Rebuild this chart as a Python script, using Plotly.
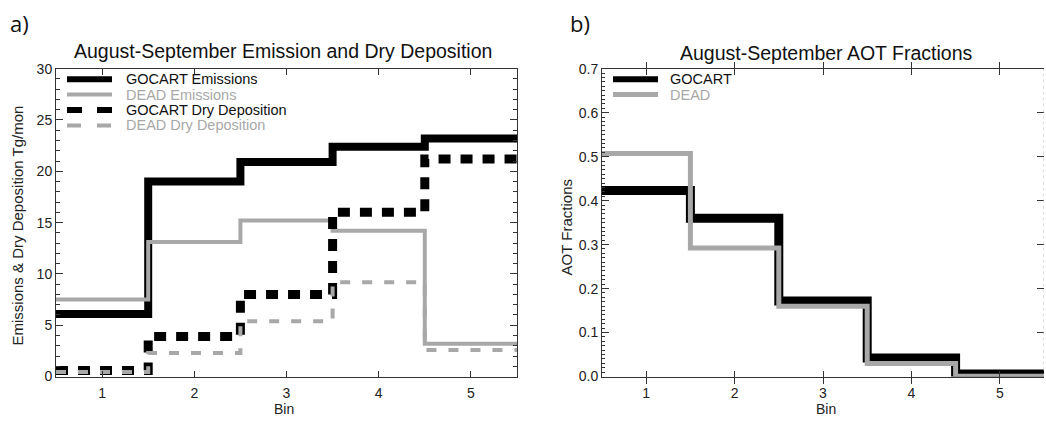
import plotly.graph_objects as go

# Size bins
bins = [1, 2, 3, 4, 5]

# August-September emission and dry deposition (Tg/mon)
gocart_emis = [6.1, 19.0, 20.9, 22.4, 23.2]
dead_emis = [7.5, 13.1, 15.2, 14.2, 3.2]
gocart_drydep = [0.6, 3.9, 8.0, 16.0, 21.2]
dead_drydep = [0.45, 2.3, 5.4, 9.2, 2.6]

# August-September AOT fractions
gocart_aot = [0.423, 0.360, 0.172, 0.042, 0.006]
dead_aot = [0.507, 0.292, 0.160, 0.030, 0.001]

left_yticks = [0, 5, 10, 15, 20, 25, 30]
right_yticks = [0.0, 0.1, 0.2, 0.3, 0.4, 0.5, 0.6, 0.7]

W, H = 1046, 425
BLACK = "#000000"
GRAY = "#a8a8a8"
AXC = "#333333"
FONT = "Liberation Sans, Arial, sans-serif"
TICKFONT = dict(family=FONT, size=14, color="#222")


def px(x):
    return x / W


def py(y):
    return 1 - y / H


def steps(vals):
    """Bin edges and values for a histogram-style step line."""
    edges = [b - 0.5 for b in bins] + [bins[-1] + 0.5]
    return edges, list(vals) + [vals[-1]]


fig = go.Figure()


def add_step(vals, color, width, dash, xa, ya):
    x, y = steps(vals)
    fig.add_trace(go.Scatter(
        x=x, y=y, mode="lines", line_shape="hv",
        line=dict(color=color, width=width, dash=dash),
        xaxis=xa, yaxis=ya, showlegend=False, hoverinfo="skip"))


add_step(gocart_emis, BLACK, 8, "solid", "x", "y")
add_step(dead_emis, GRAY, 4, "solid", "x", "y")
add_step(gocart_drydep, BLACK, 9, "12px,10px", "x", "y")
add_step(dead_drydep, GRAY, 4, "10px,12px", "x", "y")

add_step(gocart_aot, BLACK, 9, "solid", "x2", "y2")
add_step(dead_aot, GRAY, 5, "solid", "x2", "y2")

# Plot-area pixel boxes
L0, L1 = 56, 517
R0, R1 = 602, 1044
TOP, BOT = 63, 383

xcommon = dict(range=[0.5, 5.5], tickvals=bins, ticks="inside", ticklen=6,
               tickcolor=AXC, showline=True, linecolor=AXC, linewidth=1,
               mirror="allticks", showgrid=False, zeroline=False,
               ticklabelstandoff=4, tickfont=TICKFONT)

fig.update_layout(
    width=W, height=H,
    margin=dict(l=0, r=0, t=0, b=0),
    paper_bgcolor="white", plot_bgcolor="white",
    showlegend=False,
    xaxis=dict(domain=[px(L0), px(L1)], anchor="y", **xcommon),
    yaxis=dict(domain=[py(BOT), py(TOP)], anchor="x", range=[0, 30],
               tickvals=left_yticks, ticks="inside", ticklen=7,
               tickcolor=AXC, showline=True, linecolor=AXC, linewidth=1,
               mirror="allticks", showgrid=False, zeroline=False,
               minor=dict(dtick=1, ticks="inside", ticklen=4, tickcolor=AXC),
               tickfont=TICKFONT),
    xaxis2=dict(domain=[px(R0), px(R1)], anchor="y2", **xcommon),
    yaxis2=dict(domain=[py(BOT), py(TOP)], anchor="x2", range=[0, 0.7],
                tickvals=right_yticks, tickformat=".1f", ticks="inside",
                ticklen=7, tickcolor=AXC, showline=True, linecolor=AXC,
                linewidth=1, mirror=False, showgrid=False, zeroline=False,
                minor=dict(dtick=0.01, ticks="inside", ticklen=3,
                           tickcolor=AXC),
                tickfont=TICKFONT),
    yaxis3=dict(overlaying="y2", anchor="x2", side="right", range=[0, 0.7],
                tickvals=right_yticks, ticks="inside", ticklen=7,
                tickcolor=AXC, showticklabels=False, showline=False,
                showgrid=False, zeroline=False),
)

# keep yaxis3 visible by attaching an invisible trace
fig.add_trace(go.Scatter(x=[None], y=[None], xaxis="x2", yaxis="y3",
                         showlegend=False, hoverinfo="skip"))

# dotted right border of panel b
fig.add_shape(type="line", xref="x2", yref="y2", x0=5.5, x1=5.5, y0=0, y1=0.7,
              line=dict(color="#bbbbbb", width=1, dash="dot"))

ann = []
# panel labels
ann.append(dict(text="a)", x=px(8), y=py(16), xanchor="left", yanchor="middle",
                font=dict(family="Open Sans, sans-serif", size=22, color="#111")))
ann.append(dict(text="b)", x=px(568), y=py(16), xanchor="left", yanchor="middle",
                font=dict(family="Open Sans, sans-serif", size=22, color="#111")))
# titles
ann.append(dict(text="August-September Emission and Dry Deposition",
                x=px((L0 + L1) / 2 - 4), y=py(45), xanchor="center",
                yanchor="middle", font=dict(family=FONT, size=19.5, color="#111")))
ann.append(dict(text="August-September AOT Fractions",
                x=px((R0 + R1) / 2 + 3), y=py(47), xanchor="center",
                yanchor="middle", font=dict(family=FONT, size=19.5, color="#111")))
# axis titles
ann.append(dict(text="Emissions & Dry Deposition Tg/mon", textangle=-90,
                x=px(17), y=py((TOP + BOT) / 2 + 3), xanchor="center",
                yanchor="middle", font=dict(family=FONT, size=15, color="#222")))
ann.append(dict(text="AOT Fractions", textangle=-90,
                x=px(566), y=py((TOP + BOT) / 2 + 5), xanchor="center",
                yanchor="middle", font=dict(family=FONT, size=15, color="#222")))
ann.append(dict(text="Bin", x=px((L0 + L1) / 2 - 3), y=py(417),
                xanchor="center", yanchor="middle",
                font=dict(family=FONT, size=14, color="#222")))
ann.append(dict(text="Bin", x=px((R0 + R1) / 2 + 3), y=py(417),
                xanchor="center", yanchor="middle",
                font=dict(family=FONT, size=14, color="#222")))

# legends
legend_a = [("GOCART Emissions", BLACK, 6, "solid", 74),
            ("DEAD Emissions", GRAY, 4, "solid", 90),
            ("GOCART Dry Deposition", BLACK, 6, "15px,15px", 106),
            ("DEAD Dry Deposition", GRAY, 4, "14px,16px", 122)]
for name, col, w, dash, y in legend_a:
    fig.add_shape(type="line", xref="paper", yref="paper",
                  x0=px(67), x1=px(112), y0=py(y), y1=py(y),
                  line=dict(color=col, width=w, dash=dash))
    ann.append(dict(text=name, x=px(124), y=py(y), xanchor="left",
                    yanchor="middle",
                    font=dict(family=FONT, size=14.5,
                              color="#111" if col == BLACK else GRAY)))

legend_b = [("GOCART", BLACK, 6, 74), ("DEAD", GRAY, 5, 90)]
for name, col, w, y in legend_b:
    fig.add_shape(type="line", xref="paper", yref="paper",
                  x0=px(613), x1=px(658), y0=py(y), y1=py(y),
                  line=dict(color=col, width=w))
    ann.append(dict(text=name, x=px(668), y=py(y), xanchor="left",
                    yanchor="middle",
                    font=dict(family=FONT, size=14.5,
                              color="#111" if col == BLACK else GRAY)))

for a in ann:
    a.update(xref="paper", yref="paper", showarrow=False)
fig.update_layout(annotations=ann)

fig.write_html("out.html")
